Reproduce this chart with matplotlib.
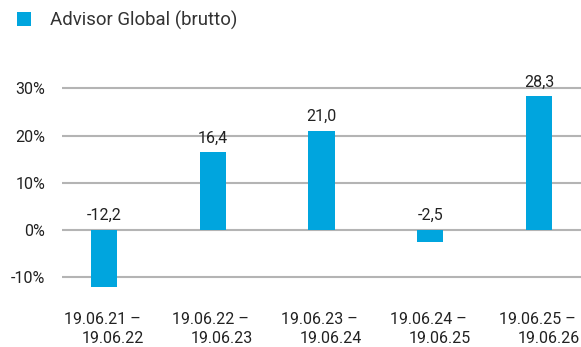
import matplotlib
matplotlib.use('Agg')
import matplotlib.pyplot as plt

plt.rcParams['font.family'] = ['Roboto', 'DejaVu Sans']

periods = ['19.06.21 – \n19.06.22', '19.06.22 – \n19.06.23', '19.06.23 – \n19.06.24',
           '19.06.24 – \n19.06.25', '19.06.25 – \n19.06.26']
values = [-12.2, 16.4, 21.0, -2.5, 28.3]
yticks = [-10, 0, 10, 20, 30]
series_name = 'Advisor Global (brutto)'

BLUE = '#00a5de'
TEXT = '#222222'

fig = plt.figure(figsize=(5.81, 3.47), dpi=100)
ax = fig.add_axes([62 / 581, 46.6 / 347, 1 - 62 / 581, 221.4 / 347])

x = range(len(values))
bars = ax.bar(x, values, width=0.24, color=BLUE, zorder=3, label=series_name)

for xi, v in zip(x, values):
    top = max(v, 0)
    ax.annotate(f'{v:.1f}'.replace('.', ','), (xi, top), xytext=(0, 10.5),
                textcoords='offset points', ha='center', va='center',
                fontsize=11.5, color=TEXT)

ax.set_xlim(-0.385, 4.385)
ax.set_ylim(-15, 32)
ax.set_yticks(yticks)
ax.set_yticklabels([f'{t}%' for t in yticks])
ax.set_xticks(list(x))
ax.set_xticklabels(periods, multialignment='right', linespacing=1.35)
ax.grid(axis='y', color='#b4b4b4', linewidth=1.5, zorder=0)
ax.tick_params(axis='both', length=0, labelsize=11.5, colors=TEXT)
ax.tick_params(axis='y', pad=12)
ax.tick_params(axis='x', pad=8)
for s in ax.spines.values():
    s.set_visible(False)

fig.legend(handles=[bars], labels=[series_name], loc='center left',
           bbox_to_anchor=(17 / 581, 1 - 20 / 347), frameon=False,
           borderaxespad=0, borderpad=0, handlelength=0.75, handleheight=0.75,
           handletextpad=1.0, fontsize=13.4, labelcolor='#333333')

fig.savefig('out.png', dpi=100)
